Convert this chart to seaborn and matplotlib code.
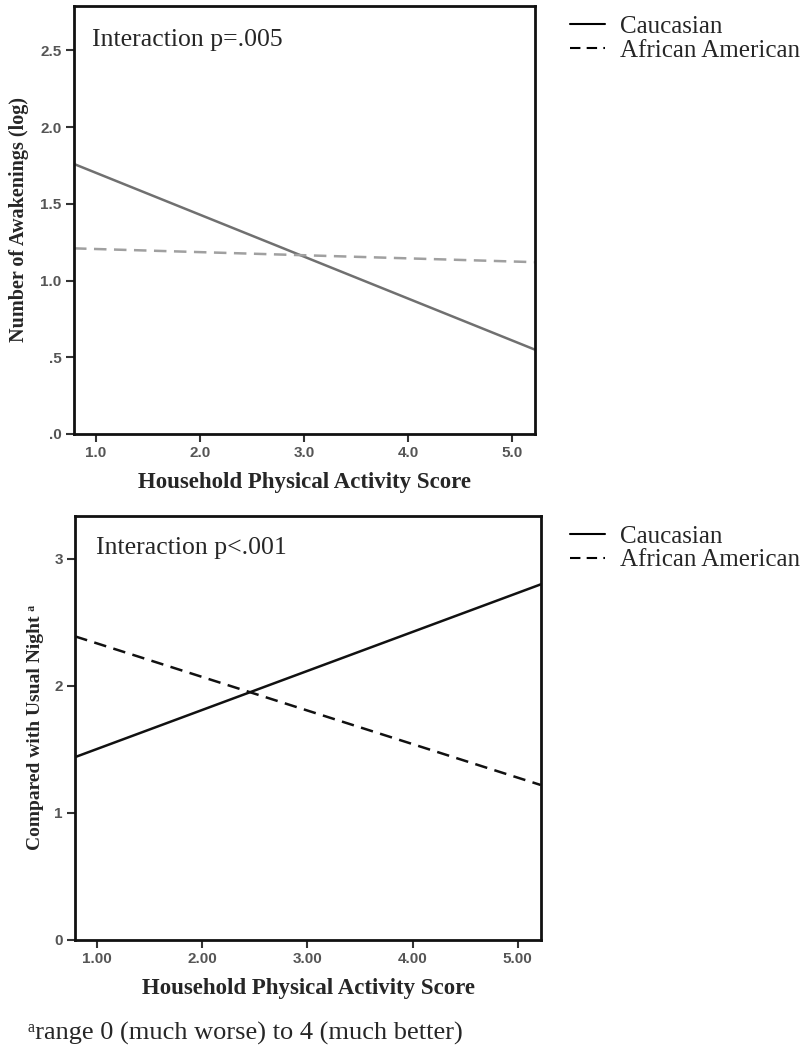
import numpy as np
import pandas as pd
import matplotlib
matplotlib.use('Agg')
import matplotlib.pyplot as plt
import seaborn as sns

# Data (predicted lines at the x-axis limits)
score = [0.79, 5.22]
groups = ['Caucasian', 'African American']
awaken_cauc = [1.76, 0.55]
awaken_aa = [1.21, 1.12]
night_cauc = [1.44, 2.80]
night_aa = [2.39, 1.22]

top_yticks = [0.0, 0.5, 1.0, 1.5, 2.0, 2.5]
top_yticklabels = ['.0', '.5', '1.0', '1.5', '2.0', '2.5']
top_xticklabels = ['1.0', '2.0', '3.0', '4.0', '5.0']
bot_yticks = [0, 1, 2, 3]
bot_xticklabels = ['1.00', '2.00', '3.00', '4.00', '5.00']
xticks = [1, 2, 3, 4, 5]

df_top = pd.DataFrame({
    'score': score * 2,
    'value': awaken_cauc + awaken_aa,
    'group': [groups[0]] * 2 + [groups[1]] * 2,
})
df_bot = pd.DataFrame({
    'score': score * 2,
    'value': night_cauc + night_aa,
    'group': [groups[0]] * 2 + [groups[1]] * 2,
})

sns.set_style('white')
plt.rcParams['font.family'] = ['Liberation Serif', 'DejaVu Serif']

serif = ['Liberation Serif', 'DejaVu Serif']
tick_font = dict(family='Liberation Sans', size=11, weight='bold', color='#555555')

fig = plt.figure(figsize=(8, 10.5), dpi=100)
ax1 = fig.add_axes([0.0925, 0.5867, 0.576, 0.4076])
ax2 = fig.add_axes([0.094, 0.1048, 0.582, 0.404])

dash_map = {'Caucasian': '', 'African American': (5, 3)}

# ---------------- TOP PANEL ----------------
sns.lineplot(data=df_top, x='score', y='value', hue='group', style='group',
             palette={'Caucasian': '#707070', 'African American': '#a0a0a0'},
             dashes=dash_map, linewidth=1.8, ax=ax1)

# ---------------- BOTTOM PANEL ----------------
sns.lineplot(data=df_bot, x='score', y='value', hue='group', style='group',
             palette={'Caucasian': '#111111', 'African American': '#111111'},
             dashes=dash_map, linewidth=1.8, ax=ax2)

for ax, ylim, yt, ytl, xtl in [
        (ax1, (0, 2.79), top_yticks, top_yticklabels, top_xticklabels),
        (ax2, (0, 3.34), bot_yticks, [str(v) for v in bot_yticks], bot_xticklabels)]:
    ax.set_xlim(score[0], score[1])
    ax.set_ylim(*ylim)
    ax.set_xticks(xticks)
    ax.set_xticklabels(xtl, **tick_font)
    ax.set_yticks(yt)
    ax.set_yticklabels(ytl, **tick_font)
    ax.tick_params(direction='out', length=6, width=1.5, color='#333333', pad=3,
                   bottom=True, left=True)
    for s in ax.spines.values():
        s.set_color('#111111')
        s.set_linewidth(2)
    ax.set_xlabel('Household Physical Activity Score', family=serif,
                  fontsize=16.5, fontweight='bold', labelpad=8)
    handles, labels = ax.get_legend_handles_labels()
    ax.get_legend().remove()
    for h in handles:
        h.set_color('black')
        h.set_linewidth(1.5)
    top = ax.get_position().y1
    fig.legend(handles, labels, loc='upper left',
               bbox_to_anchor=(0.713, top - 0.009), frameon=False,
               prop=dict(family=serif, size=18), handlelength=1.4,
               handletextpad=0.6, labelspacing=0.05, borderpad=0,
               borderaxespad=0)

ax1.set_ylabel('Number of Awakenings (log)', family=serif, fontsize=14.5,
               fontweight='bold', labelpad=8)
ax2.set_ylabel('Compared with Usual Night ᵃ', family=serif, fontsize=14,
               fontweight='bold', labelpad=7)

ax1.text(0.04, 0.947, 'Interaction p=.005', transform=ax1.transAxes,
         family=serif, fontsize=18.5, va='top', ha='left')
ax2.text(0.045, 0.95, 'Interaction p<.001', transform=ax2.transAxes,
         family=serif, fontsize=18.5, va='top', ha='left')

fig.text(0.035, 1 - 1033 / 1050, 'ᵃrange 0 (much worse) to 4 (much better)',
         family=serif, fontsize=19, va='center', ha='left')

fig.savefig('out.png', dpi=100)
